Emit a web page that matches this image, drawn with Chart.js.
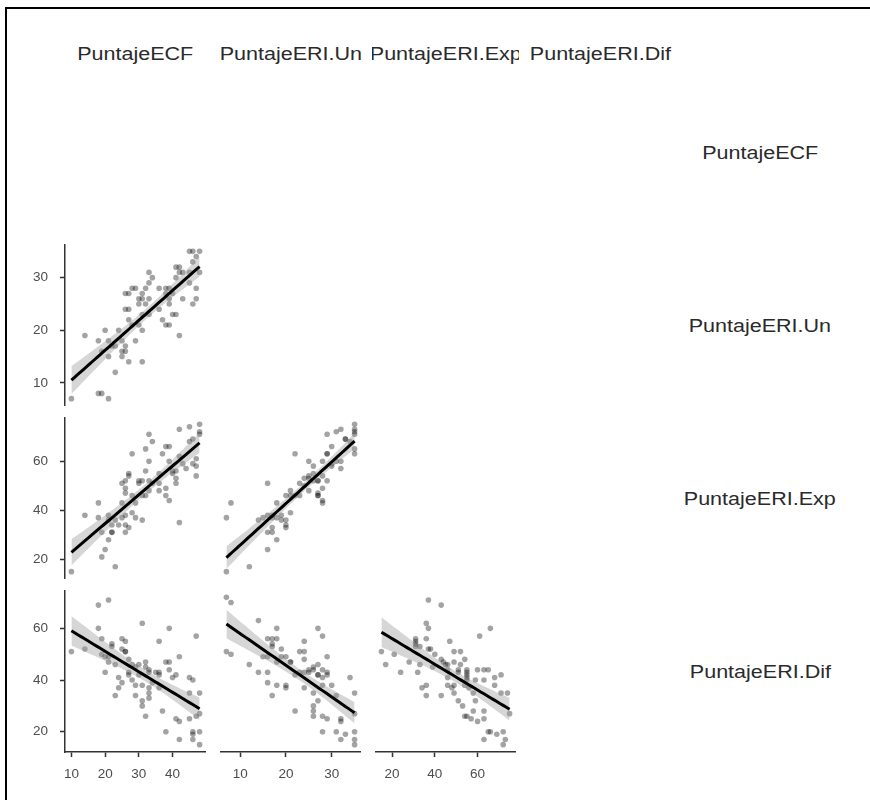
<!DOCTYPE html>
<html>
<head>
<meta charset="utf-8">
<script src="https://cdn.jsdelivr.net/npm/chart.js@4.4.0/dist/chart.umd.min.js"></script>
<style>
  body { margin:0; width:870px; height:800px; background:#fff; overflow:hidden; position:relative;
    font-family:"Liberation Sans", Arial, sans-serif; }
  .frame { position:absolute; left:5px; top:7px; width:900px; height:900px;
    border-left:2px solid #000; border-top:2px solid #000; }
  .panel { position:absolute; }
  .strip { position:absolute; overflow:hidden; color:#2a2a2a; font-size:17.5px; line-height:20px;
    white-space:nowrap; text-align:center; }
  .strip span { display:inline-block; transform:scaleX(1.23); }
</style>
</head>
<body>
<div class="frame"></div>
<script>
// DATA
var varNames = ['PuntajeECF', 'PuntajeERI.Un', 'PuntajeERI.Exp', 'PuntajeERI.Dif']

var ecfTicks = [10, 20, 30, 40]
var unTicks = [10, 20, 30]
var expTicks = [20, 40, 60]
var difTicks = [20, 40, 60]

// [PuntajeECF, PuntajeERI.Un]
var ecfUn = [[10,7],[18,8],[19,8],[21,7],[14,19],[18,18],[20,20],[21,18],[19,16],[22,17],[23,17],[21,15],
  [23,12],[24,20],[25,18],[26,17],[25,16],[26,16],[25,15],[27,14],[31,14],[26,24],[27,24],[26,27],[27,27],
  [28,28],[29,28],[27,22],[28,21],[29,18],[30,21],[31,20],[31,23],[30,26],[31,26],[30,25],[31,27],[32,28],
  [33,29],[33,26],[34,30],[33,31],[32,25],[33,23],[36,28],[36,24],[37,22],[38,28],[39,28],[38,27],[38,21],
  [39,21],[39,26],[39,25],[40,23],[41,23],[42,19],[41,30],[41,32],[42,32],[43,31],[42,31],[45,31],[45,29],
  [46,33],[45,35],[46,35],[48,35],[47,34],[48,31],[47,28],[46,25],[47,26],[43,26],[40,27]]

// [PuntajeECF, PuntajeERI.Exp]
var ecfExp = [[10,15],[14,38],[18,43],[18,37],[19,21],[20,24],[21,28],[19,31],[22,31],[22,31],[21,38],[21,36],
  [23,17],[22,34],[23,36],[24,34],[25,37],[26,38],[25,43],[26,34],[27,33],[26,31],[28,39],[29,37],[31,36],
  [26,49],[26,47],[27,55],[27,54],[25,51],[26,52],[28,46],[28,63],[30,52],[31,52],[30,51],[29,43],[31,46],
  [32,46],[32,56],[33,60],[32,65],[33,71],[34,68],[33,52],[33,48],[34,51],[36,55],[36,51],[36,48],[37,63],
  [38,66],[39,66],[39,60],[38,46],[38,49],[39,44],[40,56],[41,56],[41,51],[42,73],[42,62],[42,35],[43,59],
  [45,68],[46,69],[45,74],[48,75],[48,72],[48,71],[46,59],[47,61],[47,58],[47,54],[44,57],[41,53],[40,55]]

// [PuntajeERI.Un, PuntajeERI.Exp]
var unExp = [[7,15],[7,37],[8,43],[12,17],[16,24],[16,51],[14,36],[15,37],[16,38],[17,38],[17,37],[18,37],
  [17,33],[17,31],[16,31],[18,28],[19,38],[19,36],[20,36],[20,34],[18,43],[20,46],[21,46],[21,48],[21,39],
  [22,63],[20,33],[22,46],[23,46],[23,51],[24,50],[24,53],[25,54],[25,48],[25,60],[26,58],[26,55],[26,52],
  [27,52],[27,47],[28,49],[28,44],[27,46],[28,43],[29,71],[29,63],[30,66],[28,60],[29,63],[31,72],[32,73],
  [33,69],[30,59],[31,60],[32,60],[32,57],[30,58],[29,52],[28,54],[35,75],[35,73],[35,72],[35,71],[35,65],
  [35,63],[34,68],[33,69],[25,53],[27,52],[27,46]]

// [PuntajeECF, PuntajeERI.Dif]
var ecfDif = [[10,51],[14,52],[18,69],[21,71],[18,60],[19,56],[19,50],[20,49],[21,49],[20,43],[21,47],[22,54],
  [22,53],[23,46],[23,34],[24,37],[25,56],[26,55],[25,52],[26,51],[26,51],[25,39],[27,48],[27,42],[27,43],
  [28,46],[28,40],[29,45],[29,38],[29,34],[30,46],[30,42],[31,62],[31,38],[31,32],[31,30],[32,47],[32,45],
  [32,26],[33,44],[33,43],[33,37],[33,35],[33,33],[34,39],[36,55],[36,43],[36,42],[36,37],[37,28],[38,47],
  [39,47],[39,44],[38,20],[39,60],[40,41],[41,42],[42,49],[41,25],[42,24],[42,17],[45,41],[46,40],[45,35],
  [45,25],[46,20],[46,19],[46,17],[47,57],[48,35],[48,27],[48,20],[48,15],[47,26],[35,43],[24,41]]

// [PuntajeERI.Un, PuntajeERI.Dif]
var unDif = [[7,72],[8,70],[7,51],[8,50],[12,46],[14,63],[14,43],[15,49],[16,56],[16,49],[16,43],[16,39],
  [17,54],[17,53],[17,56],[17,34],[18,60],[18,56],[18,38],[18,47],[19,49],[19,52],[20,49],[20,38],[20,37],
  [21,47],[21,47],[22,42],[22,28],[23,51],[24,51],[24,55],[24,48],[24,37],[23,43],[24,43],[25,44],[25,43],
  [26,44],[26,45],[27,60],[28,57],[27,46],[27,42],[27,42],[28,44],[28,41],[26,35],[27,32],[26,30],[26,28],
  [26,26],[28,26],[29,25],[28,38],[29,43],[29,42],[28,20],[30,38],[31,34],[31,20],[32,25],[32,24],[32,17],
  [33,19],[34,41],[35,35],[35,27],[35,20],[35,17],[35,15],[29,49]]

// [PuntajeERI.Exp, PuntajeERI.Dif]
var expDif = [[15,51],[17,46],[21,50],[24,43],[28,47],[31,56],[31,55],[31,54],[31,53],[32,43],[33,53],[33,46],
  [34,37],[36,62],[37,60],[36,56],[36,38],[36,34],[37,71],[37,52],[38,52],[39,45],[40,50],[43,69],[43,48],
  [43,34],[44,47],[45,46],[46,46],[46,41],[46,38],[46,44],[47,55],[48,37],[49,38],[49,47],[49,51],[49,35],
  [51,44],[51,43],[51,32],[52,51],[52,46],[53,30],[54,48],[54,38],[55,44],[55,43],[55,42],[55,41],[55,40],
  [55,26],[54,26],[56,37],[57,25],[58,35],[58,28],[59,40],[59,32],[60,44],[60,24],[61,57],[63,44],[63,40],
  [63,28],[63,25],[63,17],[65,44],[65,20],[66,20],[66,60],[68,41],[68,38],[69,19],[71,42],[71,35],[74,35],
  [72,20],[73,17],[72,15],[75,27]]

var varTicks = [ecfTicks, unTicks, expTicks, difTicks]

var panels = [
  { row: 1, col: 0, pts: ecfUn },
  { row: 2, col: 0, pts: ecfExp },
  { row: 2, col: 1, pts: unExp },
  { row: 3, col: 0, pts: ecfDif },
  { row: 3, col: 1, pts: unDif },
  { row: 3, col: 2, pts: expDif }
]

// LAYOUT
var colLeft = [65, 220, 375, 530]
var rowTop = [71, 244, 417, 590]
var panelW = 141
var panelH = 162
var fontFam = '"Liberation Sans", Arial, sans-serif'

// range of a variable over every panel, with 5% expansion like ggplot
function varRange(v) {
  var vals = []
  panels.forEach(p => {
    if (p.col == v) p.pts.forEach(q => vals.push(q[0]))
    if (p.row == v) p.pts.forEach(q => vals.push(q[1]))
  })
  var lo = Math.min(...vals), hi = Math.max(...vals)
  var pad = (hi - lo) * 0.05
  return [lo - pad, hi + pad]
}

// least squares line + 95% band
function linearFit(pts) {
  var n = pts.length
  var mx = 0, my = 0
  pts.forEach(p => { mx += p[0]; my += p[1] })
  mx /= n; my /= n
  var sxx = 0, sxy = 0
  pts.forEach(p => { sxx += (p[0] - mx) ** 2; sxy += (p[0] - mx) * (p[1] - my) })
  var b = sxy / sxx, a = my - b * mx
  var sse = 0
  pts.forEach(p => { sse += (p[1] - a - b * p[0]) ** 2 })
  var s = Math.sqrt(sse / (n - 2))
  var t = 1.96 + 2.4 / (n - 2)
  var xs = pts.map(p => p[0])
  var x0 = Math.min(...xs), x1 = Math.max(...xs)
  var line = [], upper = [], lower = []
  for (let i = 0; i <= 40; i++) {
    let x = x0 + (x1 - x0) * i / 40
    let y = a + b * x
    let se = s * Math.sqrt(1 / n + (x - mx) ** 2 / sxx)
    line.push({ x: x, y: y })
    upper.push({ x: x, y: y + t * se })
    lower.push({ x: x, y: y - t * se })
  }
  return { line: line, upper: upper, lower: lower }
}

function addStrip(text, left, top, width, height) {
  var d = document.createElement('div')
  d.className = 'strip'
  d.style.left = left + 'px'
  d.style.top = top + 'px'
  d.style.width = width + 'px'
  d.style.height = height + 'px'
  d.innerHTML = '<span>' + text + '</span>'
  document.body.appendChild(d)
}

// strips
varNames.forEach((name, i) => {
  addStrip(name, colLeft[i] - 3, 44, panelW + 6, 22)
  addStrip(name, 680, rowTop[i] + panelH / 2 - 9, 160, 22)
})

function axisOpts(ticks, range, show, isX) {
  return {
    type: 'linear',
    display: show,
    min: range[0],
    max: range[1],
    border: { display: true, color: '#333', width: 1.5 },
    grid: { display: true, drawOnChartArea: false, drawTicks: true, tickLength: 5,
      tickWidth: 1.5, tickColor: '#333' },
    ticks: { color: '#4d4d4d', font: { family: fontFam, size: 13.5 }, padding: isX ? 9 : 12,
      maxRotation: 0, autoSkip: false },
    afterBuildTicks: s => { s.ticks = ticks.map(v => ({ value: v })) },
    afterFit: s => {
      // panel edges are fixed, no label overhang padding
      s.paddingTop = 0
      s.paddingBottom = 0
      s.paddingLeft = 0
      s.paddingRight = 0
      if (!show) return
      if (isX) s.height = 800 - (rowTop[3] + panelH)
      else s.width = colLeft[0] - 8
    }
  }
}

// PANELS
panels.forEach(p => {
  var left = p.col == 0 ? 8 : colLeft[p.col]
  var width = colLeft[p.col] + panelW - left
  var top = rowTop[p.row]
  var bottom = p.row == 3 ? 800 : rowTop[p.row] + panelH
  var height = bottom - top

  var cv = document.createElement('canvas')
  cv.className = 'panel'
  cv.width = width
  cv.height = height
  cv.style.left = left + 'px'
  cv.style.top = top + 'px'
  document.body.appendChild(cv)

  var f = linearFit(p.pts)

  new Chart(cv, {
    type: 'scatter',
    data: {
      datasets: [
        { type: 'line', data: f.line, borderColor: '#000', borderWidth: 3, pointRadius: 0, fill: false },
        { type: 'line', data: f.upper, borderColor: 'rgba(0,0,0,0)', borderWidth: 0, pointRadius: 0,
          backgroundColor: 'rgba(153,153,153,0.4)', fill: '+1' },
        { type: 'line', data: f.lower, borderColor: 'rgba(0,0,0,0)', borderWidth: 0, pointRadius: 0,
          fill: false },
        { data: p.pts.map(q => ({ x: q[0], y: q[1] })), backgroundColor: 'rgba(0,0,0,0.36)',
          borderWidth: 0, pointRadius: 2.8 }
      ]
    },
    options: {
      responsive: false,
      animation: false,
      devicePixelRatio: 1,
      layout: { padding: 0, autoPadding: false },
      plugins: { legend: { display: false }, tooltip: { enabled: false } },
      scales: {
        x: axisOpts(varTicks[p.col], varRange(p.col), p.row == 3, true),
        y: axisOpts(varTicks[p.row], varRange(p.row), p.col == 0, false)
      }
    }
  })
})
</script>
</body>
</html>
